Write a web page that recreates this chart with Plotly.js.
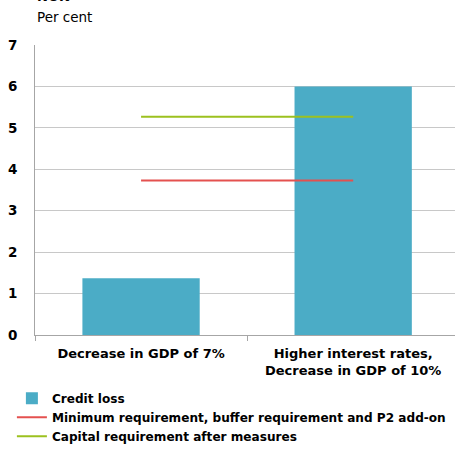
<!DOCTYPE html>
<html>
<head>
<meta charset="utf-8">
<script src="https://cdn.plot.ly/plotly-3.0.1.min.js"></script>
<style>html,body{margin:0;padding:0;background:#fff;}#chart{width:455px;height:449px;}</style>
</head>
<body>
<div id="chart"></div>
<script>
const categories = ["Decrease in GDP of 7%", "Higher interest rates,<br>Decrease in GDP of 10%"];
const creditLoss = [1.37, 6.0];
const minRequirement = [3.73, 3.73];
const capitalAfterMeasures = [5.27, 5.27];
const seriesNames = ["Credit loss", "Minimum requirement, buffer requirement and P2 add-on", "Capital requirement after measures"];
const yTicks = [0, 1, 2, 3, 4, 5, 6, 7];

const fam = "'DejaVu Sans', Arial, sans-serif";

const data = [
  {type: "bar", x: categories, y: creditLoss, name: seriesNames[0], width: 0.553,
   marker: {color: "#4bacc6", line: {width: 0}}, hoverinfo: "none"},
  {type: "scatter", mode: "lines", x: categories, y: minRequirement, name: seriesNames[1],
   line: {color: "#e4514f", width: 2}, hoverinfo: "none"},
  {type: "scatter", mode: "lines", x: categories, y: capitalAfterMeasures, name: seriesNames[2],
   line: {color: "#9cc11f", width: 2}, hoverinfo: "none"}
];

const layout = {
  width: 455, height: 449,
  margin: {l: 35, r: 0, t: 45, b: 114, autoexpand: false},
  paper_bgcolor: "#fff", plot_bgcolor: "#fff",
  font: {family: fam, size: 12.5, color: "#000"},
  showlegend: true,
  legend: {orientation: "v", x: -0.055, xanchor: "left", y: -0.168, yanchor: "top",
           font: {family: fam, size: 12.1, color: "#000", weight: "bold"},
           bgcolor: "rgba(0,0,0,0)", tracegroupgap: 0},
  bargap: 0.447,
  xaxis: {type: "category", range: [-0.5, 1.48], showgrid: false,
          showline: true, linecolor: "#a6a6a6", linewidth: 1,
          ticks: "outside", tickson: "boundaries", ticklen: 5, tickcolor: "#a6a6a6",
          ticklabelstandoff: 6,
          tickfont: {family: fam, size: 13, color: "#000", weight: "bold"}, fixedrange: true},
  yaxis: {range: [0, 7], tickvals: yTicks, showgrid: true, gridcolor: "#c8c8c8", gridwidth: 1,
          showline: true, linecolor: "#a6a6a6", linewidth: 1, ticks: "", zeroline: false,
          ticklabelstandoff: 14,
          tickfont: {family: fam, size: 13.5, color: "#000", weight: "bold"},
          fixedrange: true},
  annotations: [
    {text: "NOK", xref: "paper", yref: "paper", x: 0.0, y: (335 - 6) / 290, xanchor: "left", yanchor: "bottom",
     showarrow: false, font: {family: fam, size: 13, color: "#000", weight: "bold"}},
    {text: "Per cent", xref: "paper", yref: "paper", x: 0.0, y: (335 - 17) / 290, xanchor: "left", yanchor: "middle",
     showarrow: false, font: {family: fam, size: 13.5, color: "#000"}}
  ]
};

Plotly.newPlot("chart", data, layout, {staticPlot: true, displayModeBar: false});
</script>
</body>
</html>
